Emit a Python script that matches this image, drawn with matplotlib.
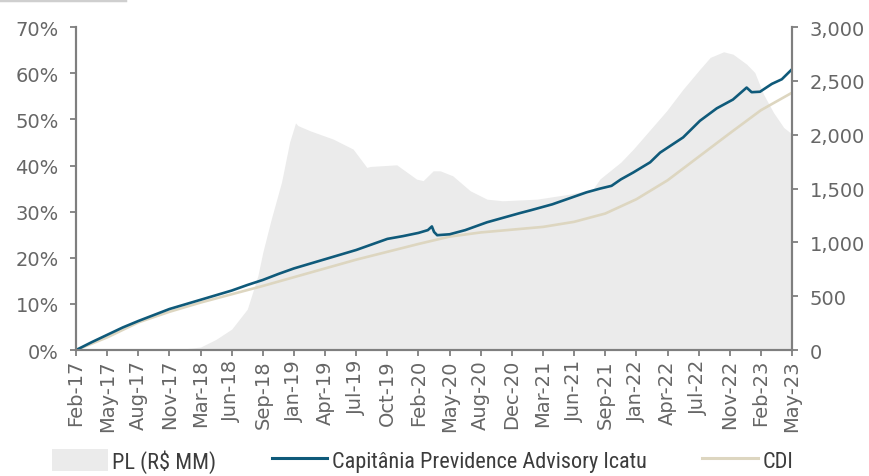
import numpy as np
import matplotlib.pyplot as plt
from matplotlib.lines import Line2D
from matplotlib.patches import Patch
from matplotlib import font_manager

# x axis labels (evenly spaced categories)
tick_labels = ['Feb-17', 'May-17', 'Aug-17', 'Nov-17', 'Mar-18', 'Jun-18', 'Sep-18', 'Jan-19',
               'Apr-19', 'Jul-19', 'Oct-19', 'Feb-20', 'May-20', 'Aug-20', 'Dec-20', 'Mar-21',
               'Jun-21', 'Sep-21', 'Jan-22', 'Apr-22', 'Jul-22', 'Nov-22', 'Feb-23', 'May-23']

# fund accumulated return (%), position in label units
fund_t = [0, 0.5, 1, 1.5, 2, 2.5, 3, 3.5, 4, 4.5, 5, 5.5, 6, 6.5, 7, 7.5, 8, 8.5, 9, 9.5,
          10, 10.5, 11, 11.3, 11.43, 11.5, 11.6, 12, 12.5, 13.2, 14.26, 14.6, 15.3, 16.4,
          16.83, 17.2, 17.5, 17.9, 18.44, 18.76, 19.5, 20.04, 20.58, 21.1, 21.54, 21.7,
          21.97, 22.35, 22.67, 22.97]
fund_v = [0, 1.7, 3.3, 4.9, 6.3, 7.6, 8.9, 9.9, 10.9, 11.9, 12.9, 14.1, 15.2, 16.5, 17.7,
          18.7, 19.7, 20.7, 21.7, 22.9, 24.1, 24.7, 25.4, 26.0, 26.8, 25.6, 24.9, 25.1,
          26.0, 27.7, 29.7, 30.3, 31.6, 34.2, 35.0, 35.6, 37.0, 38.5, 40.7, 42.8, 46.1,
          49.7, 52.4, 54.3, 56.9, 55.9, 56.0, 57.7, 58.7, 60.7]

# CDI accumulated (%)
cdi_t = list(range(24))
cdi_v = [0, 2.75, 6.0, 8.3, 10.3, 12.1, 13.9, 15.8, 17.7, 19.6, 21.3, 23.0, 24.6, 25.5,
         26.1, 26.7, 27.8, 29.6, 32.7, 36.8, 41.9, 47.0, 52.0, 55.8]

# PL (R$ MM)
pl_t = [0, 3, 3.5, 4, 4.5, 5, 5.5, 5.84, 6, 6.27, 6.6, 6.86, 7.05, 7.13, 7.52, 8.26, 8.9,
        9.34, 9.46, 10.3, 10.94, 11.15, 11.47, 11.7, 12.1, 12.66, 13.2, 13.7, 14.8, 15.87,
        16.6, 16.83, 17.5, 17.9, 18.97, 19.5, 20.04, 20.37, 20.8, 21.1, 21.54, 21.8, 22.08,
        22.4, 22.73, 23]
pl_v = [0, 5, 12, 28, 100, 195, 380, 690, 910, 1217, 1560, 1932, 2110, 2085, 2037, 1960,
        1867, 1697, 1706, 1721, 1588, 1574, 1665, 1665, 1619, 1480, 1402, 1387, 1402, 1449,
        1495, 1590, 1746, 1867, 2223, 2424, 2610, 2719, 2771, 2749, 2656, 2579, 2378, 2208,
        2068, 2006]

grey = '#7f7f7f'
txt = '#666666'

names = {f.name for f in font_manager.fontManager.ttflist}
narrow = [n for n in ['Liberation Sans Narrow', 'DejaVu Sans Condensed', 'Roboto Condensed',
                      'Open Sans Condensed'] if n in names]

fig = plt.figure(figsize=(8.69, 4.77), dpi=100)
ax = fig.add_axes([0.0875, 0.264, 0.824, 0.677])
ax2 = ax.twinx()

ax2.fill_between(pl_t, pl_v, 0, color='#ebebeb', lw=0)
ax2.set_ylim(0, 3000)
ax2.set_yticks(np.arange(0, 3001, 500))
ax2.set_yticklabels([f'{v:,.0f}' for v in np.arange(0, 3001, 500)])

ax.plot(cdi_t, cdi_v, color='#ddd6c0', lw=1.9)
ax.plot(fund_t, fund_v, color='#0f5a7a', lw=1.9)
ax.set_ylim(0, 70)
ax.set_yticks(np.arange(0, 71, 10))
ax.set_yticklabels([f'{v}%' for v in range(0, 71, 10)])
ax.set_xlim(0, 23)
ax.set_xticks(range(len(tick_labels)))
ax.set_xticklabels(tick_labels, rotation=90)

ax.set_zorder(ax2.get_zorder() + 1)
ax.patch.set_visible(False)

for a in (ax, ax2):
    a.spines['top'].set_visible(False)
    for s in ('left', 'right', 'bottom'):
        a.spines[s].set_color(grey)
        a.spines[s].set_linewidth(1.5)
    a.tick_params(colors=grey, labelcolor=txt, width=1.3, length=4.5, labelsize=14, pad=8)
ax.tick_params(axis='x', pad=2)

# thin header line at the top left
fig.add_artist(Line2D([0, 0.144], [0.998, 0.998], color='#cfcfcf', lw=2.5))

handles = [Patch(facecolor='#ebebeb', edgecolor='none'),
           Line2D([], [], color='#0f5a7a', lw=2.2),
           Line2D([], [], color='#ddd6c0', lw=2.2)]
labels = ['PL (R$ MM)', 'Capitânia Previdence Advisory Icatu', 'CDI']
fig.legend(handles, labels, loc='center left', bbox_to_anchor=(0.06, 0.032), ncol=3,
           frameon=False, handlelength=2.5, handleheight=1.1, handletextpad=0.2,
           columnspacing=2.5, borderaxespad=0, borderpad=0,
           prop={'family': narrow + ['DejaVu Sans'], 'size': 16},
           labelcolor='#3c3c3c')

fig.savefig('out.png', dpi=100)
